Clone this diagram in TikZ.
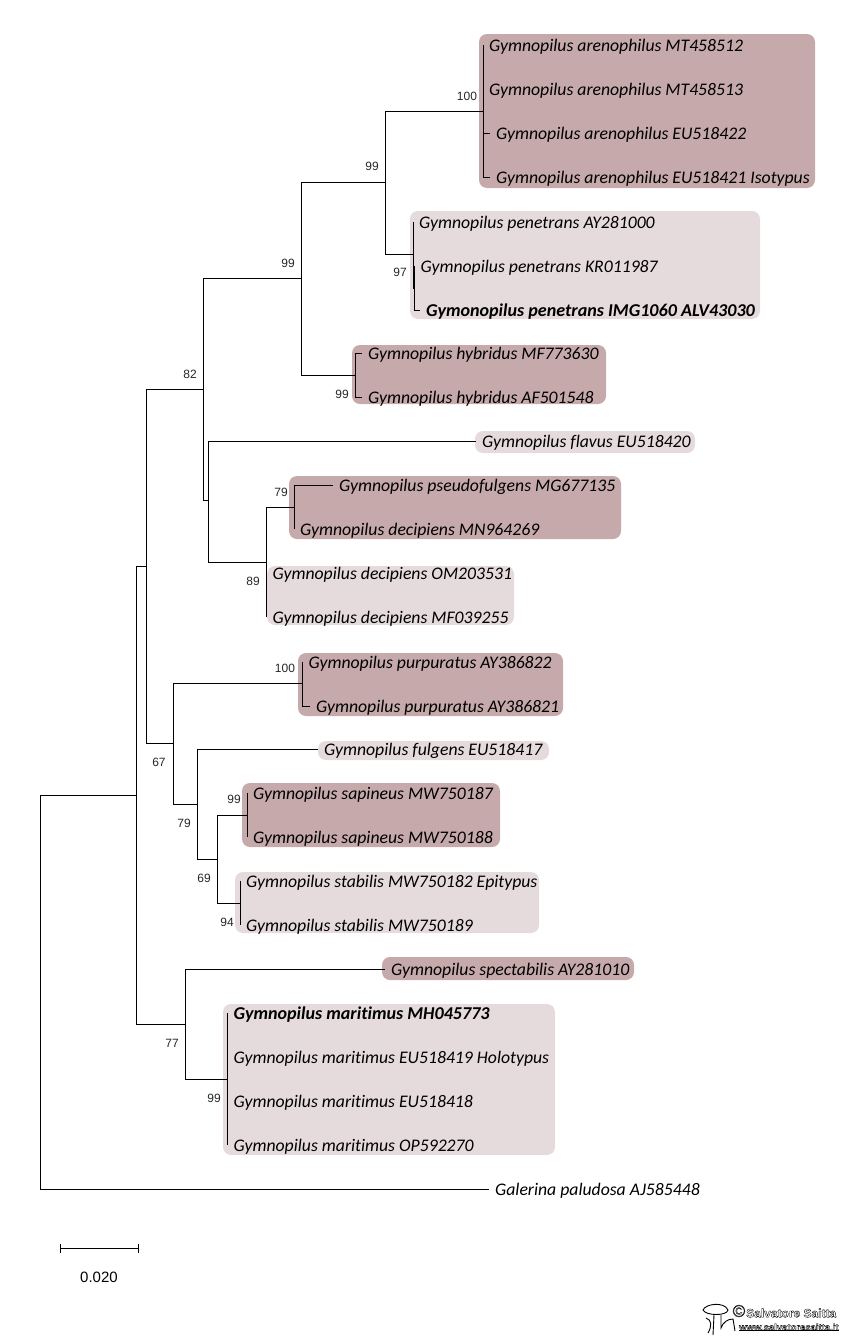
\documentclass[tikz,border=0pt]{standalone}
\usepackage{fontspec}
\setmainfont{Carlito}[Ligatures=NoCommon]
\newfontfamily\bootfont{Liberation Sans}
\usetikzlibrary{arrows.meta}
\definecolor{cladedark}{HTML}{C6A9AA}
\definecolor{cladelight}{HTML}{E6DBDC}
\newcommand{\hollow}[1]{\special{pdf:code 1 Tr 0.35 w}#1\special{pdf:code 0 Tr}}
\begin{document}
\begin{tikzpicture}[
  x=1pt, y=-1pt,
  darkbox/.style  = {fill=cladedark, rounded corners=8pt},
  lightbox/.style = {fill=cladelight, rounded corners=8pt},
  leaf/.style = {anchor=west, inner xsep=6pt, inner ysep=0pt,
    text height=14pt, text depth=2pt,
    font=\fontsize{17.7}{20}\selectfont\itshape},
  typeleaf/.style = {leaf, font=\fontsize{18.1}{20}\selectfont\itshape\bfseries},
  branch/.style = {draw, line width=0.9pt},
  scalebar/.style = {line width=0.9pt, {Bar[width=9pt]}-{Bar[width=9pt]}},
  boot/.style = {inner sep=0pt, font=\bootfont\fontsize{12}{14}\selectfont, text=black!85},
  sign/.style = {inner sep=0pt, anchor=west, font=\bootfont\bfseries},
  logo/.style = {draw, line width=0.9pt}]
\useasboundingbox (0,0) rectangle (848,1344);

\fill[darkbox]  (479,34) rectangle (815,188);
\fill[lightbox] (410,211) rectangle (760,319);
\fill[darkbox]  (352,345) rectangle (606,404);
\fill[lightbox] (475,431) rectangle (695,453);
\fill[darkbox]  (289,476) rectangle (621,539);
\fill[lightbox] (267,566) rectangle (514,625);
\fill[darkbox]  (298,653) rectangle (563,716);
\fill[lightbox] (318,741) rectangle (549,760);
\fill[darkbox]  (242,783) rectangle (500,847);
\fill[lightbox] (235,872) rectangle (539,933);
\fill[darkbox]  (382,957) rectangle (634,980);
\fill[lightbox] (223,1004) rectangle (555,1155);

\coordinate (root) at (40,795);
\coordinate (nA) at (136,795);
\coordinate (nB) at (146,566);
\coordinate (nC) at (185,1024);
\coordinate (nD) at (227.5,1079);
\coordinate (nE) at (203,389);
\coordinate (nF) at (173,743);
\coordinate (nG) at (302.5,683);
\coordinate (nH) at (197.5,804);
\coordinate (nI) at (217,859);
\coordinate (nJ) at (247,815);
\coordinate (nK) at (240,903);
\coordinate (nL) at (301,278);
\coordinate (nM) at (208,500);
\coordinate (nN) at (266.5,562);
\coordinate (nO) at (294,507);
\coordinate (nP) at (385,182);
\coordinate (nQ) at (355.5,375);
\coordinate (nR) at (483,111);
\coordinate (nS) at (413,254);
\coordinate (nT) at (414.5,288);

\node[leaf] (are1) at (483,45) {Gymnopilus arenophilus MT458512};
\node[leaf] (are2) at (483,89) {Gymnopilus arenophilus MT458513};
\node[leaf] (are3) at (490,133) {Gymnopilus arenophilus EU518422};
\node[leaf] (are4) at (490,177) {Gymnopilus arenophilus EU518421 Isotypus};
\node[leaf] (pen1) at (413,222) {Gymnopilus penetrans AY281000};
\node[leaf] (pen2) at (414.5,266) {Gymnopilus penetrans KR011987};
\node[typeleaf] (pen3) at (420,310) {Gymonopilus penetrans IMG1060 ALV43030};
\node[leaf] (hyb1) at (362,353) {Gymnopilus hybridus MF773630};
\node[leaf] (hyb2) at (362,397) {Gymnopilus hybridus AF501548};
\node[leaf] (fla1) at (476,441) {Gymnopilus flavus EU518420};
\node[leaf] (pse1) at (333,485) {Gymnopilus pseudofulgens MG677135};
\node[leaf] (dec1) at (294,529) {Gymnopilus decipiens MN964269};
\node[leaf] (dec2) at (266.5,573) {Gymnopilus decipiens OM203531};
\node[leaf] (dec3) at (266.5,617) {Gymnopilus decipiens MF039255};
\node[leaf] (pur1) at (302.5,662) {Gymnopilus purpuratus AY386822};
\node[leaf] (pur2) at (310,706) {Gymnopilus purpuratus AY386821};
\node[leaf] (ful1) at (318,749) {Gymnopilus fulgens EU518417};
\node[leaf] (sap1) at (247,793) {Gymnopilus sapineus MW750187};
\node[leaf] (sap2) at (247,837) {Gymnopilus sapineus MW750188};
\node[leaf] (sta1) at (240,881) {Gymnopilus stabilis MW750182 Epitypus};
\node[leaf] (sta2) at (240,925) {Gymnopilus stabilis MW750189};
\node[leaf] (spe1) at (385,969) {Gymnopilus spectabilis AY281010};
\node[typeleaf] (mar1) at (227.5,1013) {Gymnopilus maritimus MH045773};
\node[leaf] (mar2) at (227.5,1057) {Gymnopilus maritimus EU518419 Holotypus};
\node[leaf] (mar3) at (227.5,1101) {Gymnopilus maritimus EU518418};
\node[leaf] (mar4) at (227.5,1145) {Gymnopilus maritimus OP592270};
\node[leaf] (gal1) at (489,1189) {Galerina paludosa AJ585448};

\draw[branch] (root) -- (nA);
\draw[branch] (root) |- (gal1.west);
\draw[branch] (nA) |- (nB);
\draw[branch] (nA) |- (nC);
\draw[branch] (nB) |- (nE);
\draw[branch] (nB) |- (nF);
\draw[branch] (nE) |- (nL);
\draw[branch] (nE) |- (nM);
\draw[branch] (nL) |- (nP);
\draw[branch] (nL) |- (nQ);
\draw[branch] (nP) |- (nR);
\draw[branch] (nP) |- (nS);
\draw[branch] (nR) |- (are1.west);
\draw[branch] (nR) |- (are2.west);
\draw[branch] (nR) |- (are3.west);
\draw[branch] (nR) |- (are4.west);
\draw[branch] (nS) |- (pen1.west);
\draw[branch] (nS) |- (nT);
\draw[branch] (nT) |- (pen2.west);
\draw[branch] (nT) |- (pen3.west);
\draw[branch] (nQ) |- (hyb1.west);
\draw[branch] (nQ) |- (hyb2.west);
\draw[branch] (nM) |- (fla1.west);
\draw[branch] (nM) |- (nN);
\draw[branch] (nN) |- (nO);
\draw[branch] (nN) |- (dec2.west);
\draw[branch] (nN) |- (dec3.west);
\draw[branch] (nO) |- (pse1.west);
\draw[branch] (nO) |- (dec1.west);
\draw[branch] (nF) |- (nG);
\draw[branch] (nF) |- (nH);
\draw[branch] (nG) |- (pur1.west);
\draw[branch] (nG) |- (pur2.west);
\draw[branch] (nH) |- (ful1.west);
\draw[branch] (nH) |- (nI);
\draw[branch] (nI) |- (nJ);
\draw[branch] (nI) |- (nK);
\draw[branch] (nJ) |- (sap1.west);
\draw[branch] (nJ) |- (sap2.west);
\draw[branch] (nK) |- (sta1.west);
\draw[branch] (nK) |- (sta2.west);
\draw[branch] (nC) |- (spe1.west);
\draw[branch] (nC) |- (nD);
\draw[branch] (nD) |- (mar1.west);
\draw[branch] (nD) |- (mar2.west);
\draw[branch] (nD) |- (mar3.west);
\draw[branch] (nD) |- (mar4.west);

\node[boot] (bR) at (467,96) {100};
\node[boot] (bP) at (372,166) {99};
\node[boot] (bS) at (400,272) {97};
\node[boot] (bL) at (288,263) {99};
\node[boot] (bQ) at (342,394) {99};
\node[boot] (bE) at (190,374) {82};
\node[boot] (bO) at (281,492) {79};
\node[boot] (bN) at (253,581) {89};
\node[boot] (bG) at (285,668) {100};
\node[boot] (bF) at (159,762) {67};
\node[boot] (bH) at (184,823) {79};
\node[boot] (bJ) at (234,799) {99};
\node[boot] (bI) at (204,878) {69};
\node[boot] (bK) at (227,922) {94};
\node[boot] (bC) at (172,1043) {77};
\node[boot] (bD) at (214,1098) {99};

\coordinate (barL) at (60,1248);
\coordinate (barR) at (138.5,1248);
\draw[scalebar] (barL) -- (barR);
\node[inner sep=0pt, font=\bootfont\fontsize{15}{18}\selectfont] (barText) at (99,1277) {0.020};

\draw[logo] (703,1310) .. controls (705,1304) and (724,1301) .. (728,1310) .. controls (727,1316) and (706,1316) .. (703,1310) -- cycle;
\draw[logo] (714,1315) -- (713,1335);
\draw[logo] (721,1315) -- (721,1328) .. controls (723,1322) and (728,1319) .. (733,1319) -- (735,1331);
\draw[logo] (706,1318) .. controls (712,1320) and (712,1326) .. (708,1333);
\node[sign, font=\bootfont\fontsize{17}{18}\selectfont] (wmC) at (732.5,1311) {\hollow{©}};
\node[sign, font=\bootfont\bfseries\fontsize{12}{14}\selectfont] (wmName) at (746,1313) {\hollow{Salvatore Saitta}};
\node[sign, font=\bootfont\bfseries\fontsize{9.5}{12}\selectfont] (wmUrl) at (739,1327) {\hollow{www.salvatoresaitta.it}};
\draw[line width=0.7pt] (wmUrl.south west) -- (wmUrl.south east);
\end{tikzpicture}
\end{document}
